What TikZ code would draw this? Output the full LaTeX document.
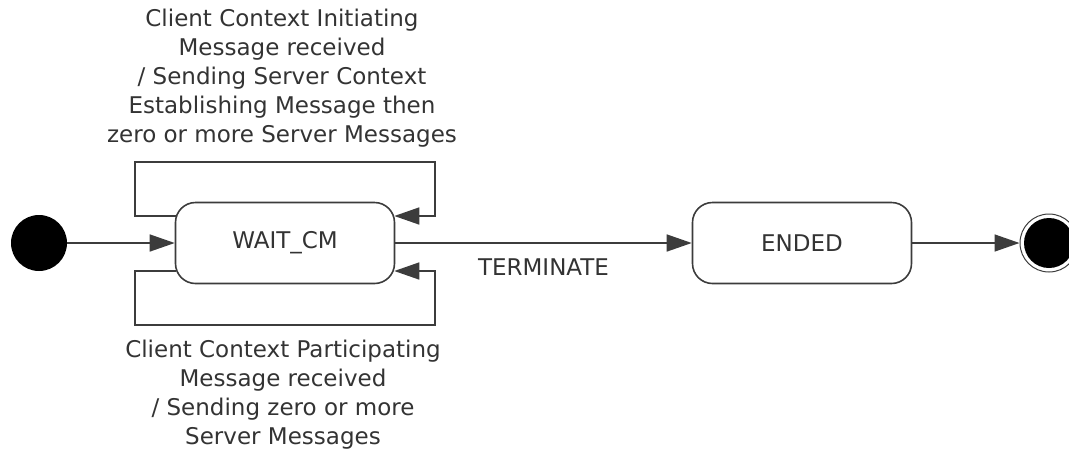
\documentclass[tikz,border=0pt]{standalone}
\usepackage{fontspec}
\setmainfont{DejaVu Sans}
\usetikzlibrary{arrows.meta,positioning,calc}
\definecolor{linegray}{HTML}{3C3C3C}
\definecolor{txtgray}{HTML}{333333}

\begin{document}
\begin{tikzpicture}[x=1pt,y=-1pt,
    state/.style={draw=linegray,line width=1.6pt,rounded corners=20pt,minimum width=219pt,minimum height=81pt,font=\fontsize{23}{29}\selectfont,text=txtgray},
    trans/.style={draw=linegray,line width=1.6pt,-{Triangle[length=25pt,width=17pt]}},
    lbl/.style={align=center,font=\fontsize{23}{29}\selectfont,text=txtgray,inner sep=0pt}]
    \useasboundingbox (0,0) rectangle (1069,451);
    \node[circle,fill=black,minimum size=56pt,inner sep=0pt] (init) at (39,243) {};
    \node[state] (wait) at (285,243) {WAIT\_CM};
    \node[state] (ended) at (802,243) {ENDED};
    \node[circle,draw=linegray,line width=1pt,minimum size=58pt,inner sep=0pt] (fin) at (1049,243) {};
    \node[circle,fill=black,minimum size=50pt,inner sep=0pt] (findot) at (fin) {};
    \draw[trans] (init) -- (wait);
    \draw[trans] (wait) -- node[lbl,below=15pt] (term) {TERMINATE} (ended);
    \draw[trans] (ended) -- (fin);
    % self loops on WAIT_CM
    \draw[trans] ([xshift=1pt,yshift=27pt]wait.west) -| (135,162) -| (435,216) -- ([xshift=-1pt,yshift=27pt]wait.east);
    \draw[trans] ([xshift=1pt,yshift=-28pt]wait.west) -| (135,325) -| (435,271) -- ([xshift=-1pt,yshift=-28pt]wait.east);
    \node[lbl] (toplbl) at (282,78) {Client Context Initiating\\Message received\\/ Sending Server Context\\Establishing Message then\\zero or more Server Messages};
    \node[lbl] (botlbl) at (283,395) {Client Context Participating\\Message received\\/ Sending zero or more\\Server Messages};
\end{tikzpicture}
\end{document}
